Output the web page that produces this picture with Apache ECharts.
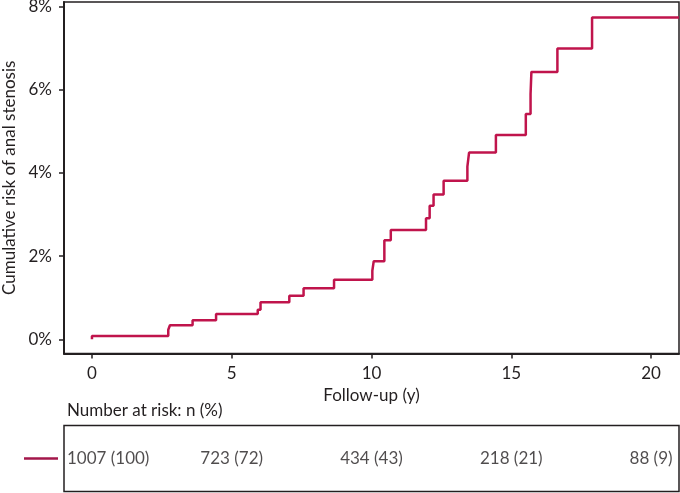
<!DOCTYPE html>
<html>
<head>
<meta charset="utf-8">
<script src="https://cdn.jsdelivr.net/npm/echarts@6/dist/echarts.min.js"></script>
<style>
html,body{margin:0;padding:0;background:#fff;}
#chart{width:680px;height:493px;}
</style>
</head>
<body>
<div id="chart"></div>
<script>
// Step times (years) and cumulative risk (%) after each step
const eventTimes = [0, 0, 2.73, 2.79, 3.60, 4.44, 5.93, 6.03, 7.06, 7.57, 8.66, 10.03, 10.08, 10.46, 10.69, 11.95, 12.08, 12.22, 12.58, 13.43, 13.49, 14.45, 15.52, 15.69, 15.72, 16.65, 17.89, 21];
const cumRisk    = [0, 0.08, 0.23, 0.34, 0.46, 0.61, 0.71, 0.89, 1.05, 1.23, 1.43, 1.65, 1.88, 2.38, 2.63, 2.91, 3.21, 3.48, 3.81, 4.15, 4.49, 4.91, 5.42, 5.90, 6.43, 6.99, 7.74, 7.74];
const xTickValues = [0, 5, 10, 15, 20];
const yTickValues = [0, 2, 4, 6, 8];
const atRiskTimes = [0, 5, 10, 15, 20];
const atRiskText  = ['1007 (100)', '723 (72)', '434 (43)', '218 (21)', '88 (9)'];

const FONT = 'Lato';
const TXT = '#231f20';
const RED = '#c0144c';

const chart = echarts.init(document.getElementById('chart'), null, {renderer: 'canvas'});
const curve = eventTimes.map((t, i) => [t, cumRisk[i]]);
const riskData = atRiskTimes.map((t, i) => ({
  value: [t, 0.5, atRiskText[i]],
  label: {
    align: i === 0 ? 'left' : 'center',
    offset: i === 0 ? [-25, 0] : [0, 0]
  }
}));

chart.setOption({
  animation: false,
  textStyle: {fontFamily: FONT, color: TXT},
  grid: [
    {left: 64, width: 615, top: 2, height: 351.5, show: true, borderColor: TXT, borderWidth: 1.5, containLabel: false, outerBoundsMode: 'none'},
    {left: 64, width: 615, top: 425.5, height: 66, show: true, borderColor: TXT, borderWidth: 1.5, containLabel: false, outerBoundsMode: 'none'}
  ],
  xAxis: [
    {
      type: 'value', gridIndex: 0, min: -1, max: 21,
      name: 'Follow-up (y)', nameLocation: 'middle', nameGap: 32,
      nameTextStyle: {fontFamily: FONT, fontSize: 17, color: TXT},
      axisLine: {onZero: false, lineStyle: {color: TXT, width: 2}},
      axisTick: {show: true, length: 5, customValues: xTickValues, lineStyle: {color: TXT, width: 1.5}},
      axisLabel: {customValues: xTickValues, margin: 12, fontFamily: FONT, fontSize: 17, color: TXT},
      splitLine: {show: false}
    },
    {
      type: 'value', gridIndex: 1, min: -1, max: 21, show: false
    }
  ],
  yAxis: [
    {
      type: 'value', gridIndex: 0, min: -0.34, max: 8.11,
      name: 'Cumulative risk of anal stenosis', nameLocation: 'middle', nameGap: 45, nameRotate: 90,
      nameTextStyle: {fontFamily: FONT, fontSize: 17, color: TXT},
      axisLine: {show: true, onZero: false, lineStyle: {color: TXT, width: 2}},
      axisTick: {show: true, length: 5, customValues: yTickValues, lineStyle: {color: TXT, width: 1.5}},
      axisLabel: {customValues: yTickValues, margin: 12, fontFamily: FONT, fontSize: 17, color: TXT, formatter: v => v + '%'},
      splitLine: {show: false}
    },
    {
      type: 'value', gridIndex: 1, min: 0, max: 1, show: false
    }
  ],
  graphic: [
    {type: 'text', left: 67, top: 402, style: {text: 'Number at risk: n (%)', fontFamily: FONT, fontSize: 17, fill: TXT}},
    {type: 'line', shape: {x1: 24, y1: 458.5, x2: 58, y2: 458.5}, style: {stroke: '#a3164a', lineWidth: 2.5}}
  ],
  series: [
    {
      type: 'line', xAxisIndex: 0, yAxisIndex: 0, step: 'end', showSymbol: false,
      data: curve, lineStyle: {color: RED, width: 2.5}, itemStyle: {color: RED}
    },
    {
      type: 'scatter', xAxisIndex: 1, yAxisIndex: 1, symbolSize: 0, data: riskData,
      label: {show: true, position: 'inside', formatter: p => p.value[2], fontFamily: FONT, fontSize: 17, color: TXT}
    }
  ]
});
</script>
</body>
</html>
